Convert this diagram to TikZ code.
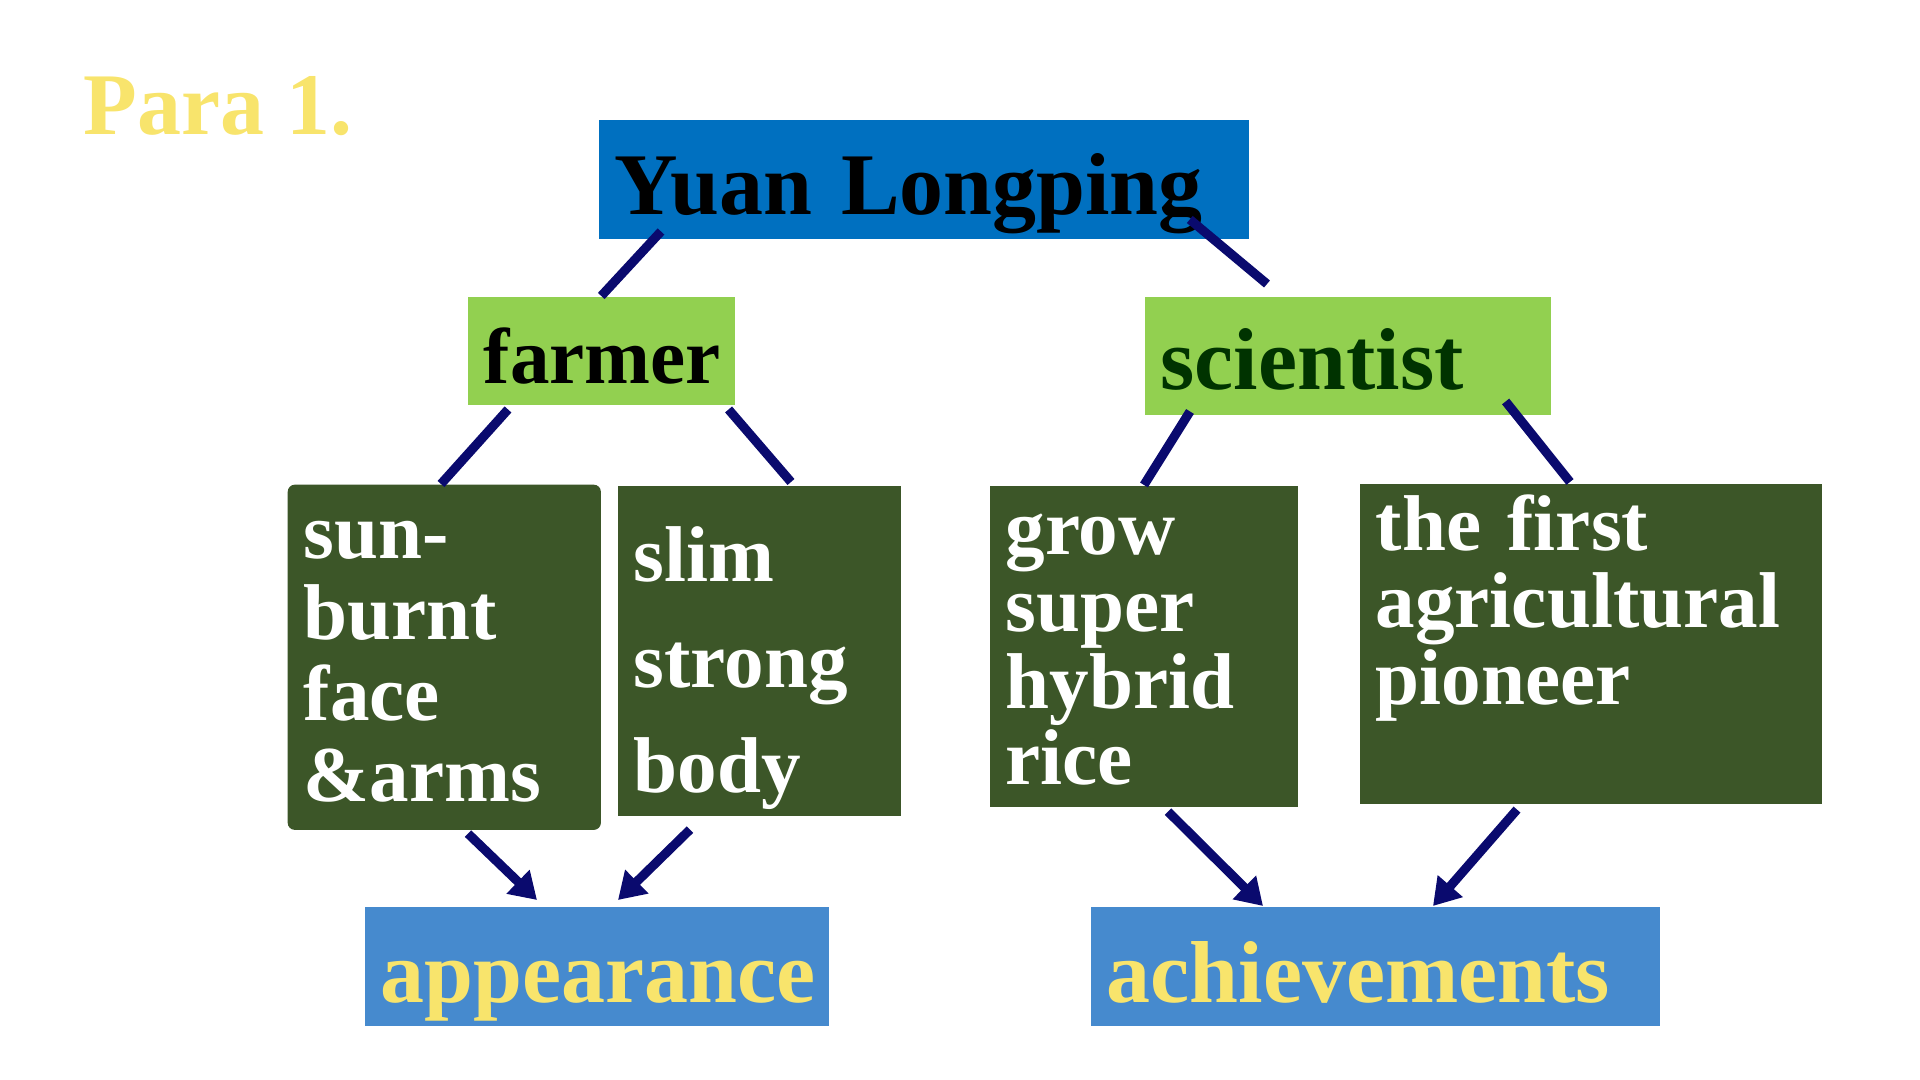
\documentclass[tikz,border=0pt]{standalone}
\usepackage{fontspec}
\setmainfont{Liberation Serif}
\usepackage{xcolor}
\usepackage{tikz}
\usetikzlibrary{arrows.meta, positioning}

\definecolor{kopfblau}{HTML}{0070C0}
\definecolor{hellgruen}{HTML}{92D050}
\definecolor{oliv}{HTML}{3C5628}
\definecolor{zielblau}{HTML}{468ACE}
\definecolor{gelb}{HTML}{F8E46C}
\definecolor{strich}{HTML}{0A0A6E}
\definecolor{dunkelgruen}{HTML}{003300}

\begin{document}
\begin{tikzpicture}[x=0.01cm, y=-0.01cm,
  kasten/.style={anchor=north west, inner xsep=0.16cm, inner ysep=0pt, align=left},
  gross/.style={font=\bfseries\fontsize{25}{30}\selectfont},
  klein/.style={font=\bfseries\fontsize{22.5}{23}\selectfont},
  linie/.style={draw=strich, line width=2.6pt},
  pfeil/.style={linie, -{Triangle[width=9pt,length=7.5pt]}}]
  \useasboundingbox (0,0) rectangle (1920,1080);

  \node[anchor=base west, gross, text=gelb] (para) at (71,135) {Para 1.};

  % Kopf
  \node[kasten, gross, fill=kopfblau, text width=6.18cm, text height=0.95cm, text depth=0.24cm] (yuan) at (598,119) {Yuan Longping};

  % zweite Ebene
  \node[kasten, klein, fill=hellgruen, text width=2.35cm, text height=0.87cm, text depth=0.21cm] (farmer) at (467,296) {farmer};
  \node[kasten, gross, fill=hellgruen, text=dunkelgruen, text width=3.74cm, text height=0.93cm, text depth=0.25cm] (scientist) at (1144,296) {scientist};

  % dritte Ebene
  \node[kasten, klein, fill=oliv, text=white, rounded corners=2pt, text width=2.81cm, text height=0.74cm, text depth=2.71cm] (sun) at (287,484) {sun-\\burnt\\face\\\&arms};
  \node[kasten, font=\bfseries\fontsize{22.5}{30}\selectfont, fill=oliv, text=white, text width=2.51cm, text height=0.96cm, text depth=2.34cm] (slim) at (617,485) {slim\\strong\\body};
  \node[kasten, font=\bfseries\fontsize{22.5}{21.8}\selectfont, fill=oliv, text=white, text width=2.76cm, text height=0.69cm, text depth=2.52cm] (grow) at (989,485) {grow\\super\\hybrid\\rice};
  \node[kasten, font=\bfseries\fontsize{22.5}{21.8}\selectfont, fill=oliv, text=white, text width=4.30cm, text height=0.67cm, text depth=2.53cm] (first) at (1359,483) {the first\\agricultural\\pioneer};

  % unten
  \node[kasten, gross, fill=zielblau, text=gelb, text width=4.32cm, text height=0.96cm, text depth=0.23cm] (appearance) at (364,906) {appearance};
  \node[kasten, gross, fill=zielblau, text=gelb, text width=5.37cm, text height=0.96cm, text depth=0.23cm] (achievements) at (1090,906) {achievements};

  \draw[linie] ([shift={(63,-8)}]yuan.south west) -- (farmer.north);
  \draw[linie] ([shift={(-60,-20)}]yuan.south east) -- ([shift={(123,-12)}]scientist.north west);
  \draw[linie] ([shift={(41,4)}]farmer.south west) -- ([shift={(154,0)}]sun.north west);
  \draw[linie] ([shift={(-7,4)}]farmer.south east) -- ([shift={(174,-3)}]slim.north west);
  \draw[linie] ([shift={(46,-4)}]scientist.south west) -- ([shift={(155,0)}]grow.north west);
  \draw[linie] ([shift={(-46,-14)}]scientist.south east) -- ([shift={(211,-1)}]first.north west);

  \draw[pfeil] ([shift={(181,3)}]sun.south west) -- ([shift={(173,-6)}]appearance.north west);
  \draw[pfeil] ([shift={(73,13)}]slim.south west) -- ([shift={(254,-6)}]appearance.north west);
  \draw[pfeil] ([shift={(179,4)}]grow.south west) -- ([shift={(173,0)}]achievements.north west);
  \draw[pfeil] ([shift={(158,5)}]first.south west) -- ([shift={(343,0)}]achievements.north west);
\end{tikzpicture}
\end{document}
